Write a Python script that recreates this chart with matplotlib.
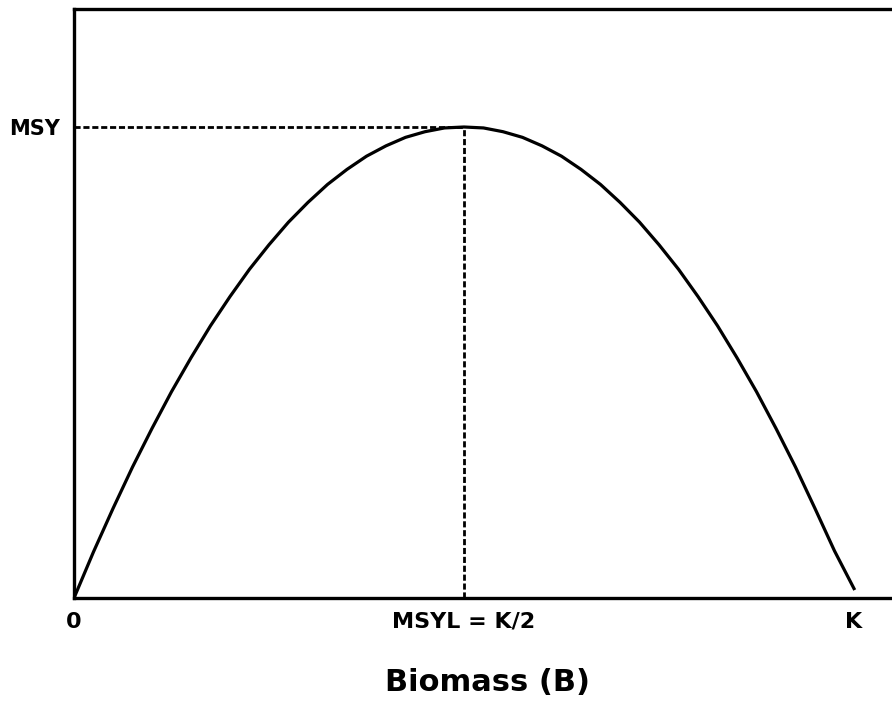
import matplotlib
matplotlib.use("Agg")
import matplotlib.pyplot as plt


# Curva de produção (biomassa relativa a K, produção relativa ao MSY)
biomass = [0.0, 0.025, 0.05, 0.075, 0.1, 0.125, 0.15, 0.175, 0.2, 0.225,
           0.25, 0.275, 0.3, 0.325, 0.35, 0.375, 0.4, 0.425, 0.45, 0.475,
           0.5, 0.525, 0.55, 0.575, 0.6, 0.625, 0.65, 0.675, 0.7, 0.725,
           0.75, 0.775, 0.8, 0.825, 0.85, 0.875, 0.9, 0.925, 0.95, 0.975, 1.0]
yield_ = [0.0, 0.098, 0.19, 0.278, 0.36, 0.438, 0.51, 0.578, 0.64, 0.698,
          0.75, 0.798, 0.84, 0.878, 0.91, 0.938, 0.96, 0.978, 0.99, 0.998,
          1.0, 0.998, 0.99, 0.978, 0.96, 0.938, 0.91, 0.878, 0.84, 0.798,
          0.75, 0.698, 0.64, 0.578, 0.51, 0.438, 0.36, 0.278, 0.19, 0.1, 0.02]

msyl = 0.5
msy = 1.0
x_ticks = [0.0, 0.5, 1.0]
x_labels = ["0", "MSYL = K/2", "K"]

fig = plt.figure(figsize=(8.92, 7.16), dpi=100)
# eixo vai além da borda direita (como no original)
ax = fig.add_axes([74 / 892, 118 / 716, 828 / 892, 589 / 716])

ax.plot(biomass, yield_, color="black", lw=2.3, solid_joinstyle="round")

# linhas tracejadas até o MSY
ax.plot([0, msyl], [msy, msy], color="black", lw=2.0, linestyle=(0, (2.2, 1.0)))
ax.plot([msyl, msyl], [0, msy], color="black", lw=2.0, linestyle=(0, (2.2, 1.0)))

ax.set_xlim(0, 828 / 780)
ax.set_ylim(0, 589 / 471)

ax.set_xticks(x_ticks)
ax.set_xticklabels(x_labels, fontsize=16, fontweight="bold")
ax.set_yticks([msy])
ax.set_yticklabels(["MSY"], fontsize=15, fontweight="bold")
ax.tick_params(length=0, pad=10)

ax.set_xlabel("Biomass (B)", fontsize=22, fontweight="bold", labelpad=26)

for side in ["left", "top", "bottom"]:
    ax.spines[side].set_linewidth(2.4)
ax.spines["right"].set_visible(False)

fig.savefig("out.png", dpi=100)
